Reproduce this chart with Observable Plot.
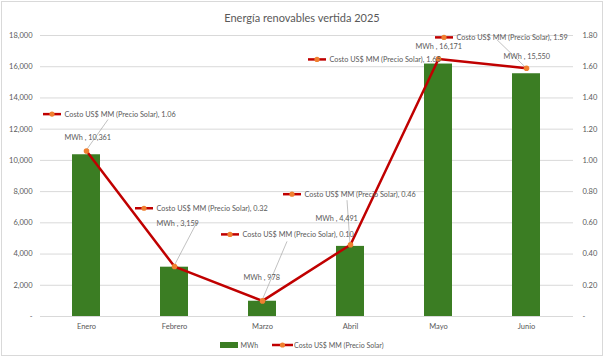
<!DOCTYPE html>
<html>
<head>
<meta charset="utf-8">
<script src="https://cdn.jsdelivr.net/npm/d3@7"></script>
<script src="https://cdn.jsdelivr.net/npm/@observablehq/plot@0.6"></script>
<style>
  html, body { margin: 0; padding: 0; background: #fff; }
  #wrap { margin: 1px; width: 600px; height: 353px; border: 1px solid #d9d9d9; font-family: Lato, "Open Sans", sans-serif; color: #595959; overflow: hidden; }
  #title { height: 28px; box-sizing: border-box; padding-top: 4px; line-height: 24px; text-align: center; font-size: 11px; color: #595959; }
  #legend { height: 21px; display: flex; justify-content: center; align-items: center; font-size: 7px; color: #595959; gap: 0; }
  #legend .item { display: flex; align-items: center; }
  #legend .sw { display: inline-block; width: 18px; height: 6px; background: #3b7d23; margin-right: 2px; }
  svg { display: block; }
</style>
</head>
<body>
<div id="wrap">
  <div id="title"></div>
  <div id="chart"></div>
  <div id="legend"></div>
</div>
<script>
// ---- data ----
const titleText = "Energía renovables vertida 2025";
const months = ["Enero", "Febrero", "Marzo", "Abril", "Mayo", "Junio"];
const mwh = [10361, 3159, 978, 4491, 16171, 15550];
const costo = [1.06, 0.32, 0.10, 0.46, 1.65, 1.59];
const barSeries = "MWh";
const lineSeries = "Costo US$ MM (Precio Solar)";
const leftTicks = [0, 2000, 4000, 6000, 8000, 10000, 12000, 14000, 16000, 18000];
const rightTicks = [0, 0.2, 0.4, 0.6, 0.8, 1.0, 1.2, 1.4, 1.6, 1.8];

// ---- layout (label offsets in px relative to each line point) ----
const labelLayout = [
  {costo: [-22, -36.4], mwh: [-22, -13.7], leader: [22, -31]},
  {costo: [-18, -57.8], mwh: [-18, -42.8], leader: [23, -44]},
  {costo: [-20, -66],   mwh: [-19, -23.4], leader: [25, -59]},
  {costo: [-46, -50],   mwh: [-35, -26.3], leader: [-3, -44]},
  {costo: [-109, 1],    mwh: [-23, -12.4], leader: [0, 0]},
  {costo: [-70, -30.4], mwh: [-23, -11.7], leader: [-29, -28]}
];

const ratio = 18000 / 1.8; // secondary axis mapping
const data = months.map((m, i) => ({month: m, mwh: mwh[i], costo: costo[i]}));

const GREEN = "#3b7d23", RED = "#c00000", ORANGE = "#f08030", GRID = "#d9d9d9", TXT = "#595959";
const fmt = d3.format(",");

document.getElementById("title").textContent = titleText;

const annotations = (...args) => {
  const scales = args.find(a => a && typeof a.x === "function" && typeof a.y === "function");
  const {x, y} = scales;
  const bw = x.bandwidth ? x.bandwidth() / 2 : 0;
  const g = d3.create("svg:g");
  data.forEach((d, i) => {
    const px = x(d.month) + bw, py = y(d.costo * ratio);
    const L = labelLayout[i];
    if (L.leader[0] || L.leader[1]) {
      g.append("line")
        .attr("x1", px).attr("y1", py)
        .attr("x2", px + L.leader[0]).attr("y2", py + L.leader[1])
        .attr("stroke", "#a6a6a6").attr("stroke-width", 0.7);
    }
    const kx = px + L.costo[0], ky = py + L.costo[1];
    g.append("line")
      .attr("x1", kx - 21).attr("x2", kx - 3).attr("y1", ky).attr("y2", ky)
      .attr("stroke", RED).attr("stroke-width", 2.5);
    g.append("circle").attr("cx", kx - 12).attr("cy", ky).attr("r", 2.6).attr("fill", ORANGE);
  });
  return g.node();
};

const labelMarks = [];
data.forEach((d, i) => {
  const L = labelLayout[i];
  labelMarks.push(Plot.text([d], {
    x: "month", y: r => r.costo * ratio,
    text: r => `${lineSeries}, ${r.costo.toFixed(2)}`,
    dx: L.costo[0], dy: L.costo[1], textAnchor: "start", fontSize: 7.3, fill: TXT
  }));
  labelMarks.push(Plot.text([d], {
    x: "month", y: r => r.costo * ratio,
    text: r => `${barSeries} , ${fmt(r.mwh)}`,
    dx: L.mwh[0], dy: L.mwh[1], textAnchor: "start", fontSize: 7.3, fill: TXT
  }));
});

const chart = Plot.plot({
  width: 600,
  height: 304,
  marginLeft: 38,
  marginRight: 29,
  marginTop: 5,
  marginBottom: 18,
  style: {fontFamily: "Lato, 'Open Sans', sans-serif", fontSize: "7.5px", color: TXT, background: "transparent"},
  x: {domain: months, paddingInner: 0.68, paddingOuter: 0.34, label: null},
  y: {domain: [0, 18000], label: null},
  marks: [
    Plot.ruleY(leftTicks, {stroke: GRID, strokeWidth: 1}),
    Plot.axisY(leftTicks, {anchor: "left", tickSize: 0, tickPadding: 8, label: null, fontSize: 7.5,
      tickFormat: d => d === 0 ? "-" : fmt(d)}),
    Plot.axisY(rightTicks.map(v => v * ratio), {anchor: "right", tickSize: 0, tickPadding: 9, label: null, fontSize: 7.5,
      tickFormat: d => d === 0 ? "-" : (d / ratio).toFixed(2)}),
    Plot.axisX({tickSize: 0, tickPadding: 7.5, label: null, fontSize: 7.5}),
    Plot.barY(data, {x: "month", y: "mwh", fill: GREEN}),
    annotations,
    Plot.line(data, {x: "month", y: d => d.costo * ratio, stroke: RED, strokeWidth: 2.5}),
    Plot.dot(data, {x: "month", y: d => d.costo * ratio, r: 2.8, fill: ORANGE}),
    ...labelMarks
  ]
});
document.getElementById("chart").appendChild(chart);

// legend
const legend = document.getElementById("legend");
legend.innerHTML = `
  <span class="item"><span class="sw"></span><span>${barSeries}</span></span>
  <span class="item" style="margin-left:14px">
    <svg width="21" height="8"><line x1="0" x2="21" y1="4" y2="4" stroke="${RED}" stroke-width="2.5"/><circle cx="10.5" cy="4" r="2.6" fill="${ORANGE}"/></svg>
    <span style="margin-left:1px">${lineSeries}</span>
  </span>`;
</script>
</body>
</html>
